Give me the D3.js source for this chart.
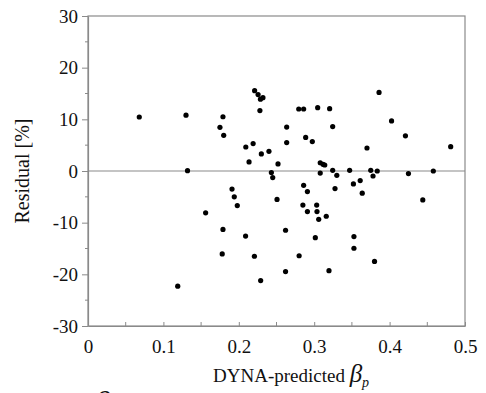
<!DOCTYPE html>
<html>
<head>
<meta charset="utf-8">
<script src="https://cdn.jsdelivr.net/npm/d3@7"></script>
<style>
  body { margin: 0; background: #fff; }
  svg { display: block; font-family: "Liberation Serif", "DejaVu Serif", serif; }
</style>
</head>
<body>
<div id="chart"></div>
<script>
// predicted beta_p vs residual (%)
var betaP = [0.068, 0.130, 0.132, 0.179, 0.175, 0.180, 0.191, 0.194, 0.198, 0.156,
    0.179, 0.178, 0.119, 0.221, 0.2256, 0.2287, 0.232, 0.228, 0.2795, 0.286,
    0.3046, 0.3205, 0.386, 0.2635, 0.3245, 0.4026, 0.421, 0.2887, 0.2975, 0.2635,
    0.370, 0.481, 0.2093, 0.219, 0.240, 0.2299, 0.2136, 0.252, 0.308, 0.3117,
    0.314, 0.308, 0.3245, 0.330, 0.347, 0.375, 0.378, 0.3836, 0.425, 0.458,
    0.2432, 0.245, 0.286, 0.291, 0.3276, 0.352, 0.361, 0.3637, 0.2507, 0.444,
    0.285, 0.291, 0.3033, 0.3037, 0.306, 0.316, 0.209, 0.262, 0.3015, 0.3527,
    0.3527, 0.2207, 0.280, 0.380, 0.262, 0.3196, 0.229];
var residual = [10.45, 10.8, 0.07, 10.5, 8.45, 6.9, -3.5, -5.0, -6.7, -8.1,
    -11.3, -16.05, -22.3, 15.55, 14.8, 13.9, 14.2, 11.7, 12.0, 12.0,
    12.26, 12.07, 15.2, 8.5, 8.6, 9.7, 6.8, 6.5, 5.7, 5.5,
    4.45, 4.7, 4.65, 5.3, 3.8, 3.3, 1.75, 1.36, 1.6, 1.3,
    1.16, -0.4, 0.13, -0.83, 0.13, 0.13, -0.97, 0.0, -0.5, 0.0,
    -0.3, -1.28, -2.77, -3.99, -3.4, -2.5, -1.86, -4.3, -5.5, -5.6,
    -6.6, -7.85, -6.6, -7.85, -9.35, -8.76, -12.6, -11.47, -12.9, -12.7,
    -14.95, -16.5, -16.4, -17.5, -19.46, -19.3, -21.2];
var xTicks = [0, 0.1, 0.2, 0.3, 0.4, 0.5];
var yTicks = [-30, -20, -10, 0, 10, 20, 30];

var width = 486, height = 393;
var mLeft = 88, mRight = 465, mTop = 16, mBottom = 326;
var axisColor = "#8a8a8a";

var svg = d3.select("#chart").append("svg")
    .attr("width", width)
    .attr("height", height);

var x = d3.scaleLinear().domain([0, 0.5]).range([mLeft, mRight]);
var y = d3.scaleLinear().domain([-30, 30]).range([mBottom, mTop]);

// frame
svg.append("rect")
    .attr("x", mLeft).attr("y", mTop)
    .attr("width", mRight - mLeft).attr("height", mBottom - mTop)
    .attr("fill", "none").attr("stroke", axisColor).attr("stroke-width", 1.2);

// zero line
svg.append("line")
    .attr("x1", mLeft).attr("x2", mRight)
    .attr("y1", y(0)).attr("y2", y(0))
    .attr("stroke", axisColor).attr("stroke-width", 1.2);

// y axis: ticks outward, minor every 5
var yAxis = d3.axisLeft(y).tickValues(yTicks).tickSize(6).tickSizeOuter(0).tickPadding(4)
    .tickFormat(function (d) { return String(d); });
var gy = svg.append("g").attr("transform", "translate(" + mLeft + ",0)").call(yAxis);
var yMinor = d3.range(-25, 30, 10);
svg.selectAll(".ymin").data(yMinor).enter().append("line")
    .attr("x1", mLeft - 3).attr("x2", mLeft)
    .attr("y1", function (d) { return y(d); }).attr("y2", function (d) { return y(d); })
    .attr("stroke", axisColor);

// x axis: ticks pointing inward, every 0.05
var xAxis = d3.axisBottom(x).tickValues(xTicks).tickSize(-4).tickSizeOuter(0).tickPadding(9)
    .tickFormat(function (d) { return d === 0 ? "0" : d3.format(".1f")(d); });
var gx = svg.append("g").attr("transform", "translate(0," + mBottom + ")").call(xAxis);
var xMinor = [0.05, 0.15, 0.25, 0.35, 0.45];
svg.selectAll(".xmin").data(xMinor).enter().append("line")
    .attr("x1", function (d) { return x(d); }).attr("x2", function (d) { return x(d); })
    .attr("y1", mBottom - 4).attr("y2", mBottom)
    .attr("stroke", axisColor);

[gx, gy].forEach(function (g) {
    g.attr("font-family", "Liberation Serif, serif").attr("font-size", 19);
    g.select(".domain").attr("stroke", axisColor).attr("stroke-width", 1.2);
    g.selectAll(".tick line").attr("stroke", axisColor);
    g.selectAll(".tick text").attr("fill", "#111");
});
gx.selectAll(".tick text").attr("dy", "0.95em");

// points
svg.selectAll("circle.pt")
    .data(betaP.map(function (b, i) { return [b, residual[i]]; }))
    .enter().append("circle")
    .attr("class", "pt")
    .attr("cx", function (d) { return x(d[0]); })
    .attr("cy", function (d) { return y(d[1]); })
    .attr("r", 2.6)
    .attr("fill", "#000");

// axis titles
svg.append("text")
    .attr("transform", "translate(29," + y(0) + ") rotate(-90)")
    .attr("text-anchor", "middle")
    .style("font-size", "20px")
    .attr("fill", "#111")
    .text("Residual [%]");

var xt = svg.append("text")
    .attr("x", 213).attr("y", 382)
    .style("font-size", "19px")
    .attr("fill", "#111");
xt.append("tspan").text("DYNA-predicted ");
xt.append("tspan").style("font-style", "italic").style("font-size", "25px").text("β");
xt.append("tspan").style("font-style", "italic").style("font-size", "14px").attr("dy", 5).text("p");

// cut-off glyphs from the next panel at the bottom edge
svg.append("text").attr("x", 4).attr("y", 406).style("font-size", "22px").attr("fill", "#111").text("a");
svg.append("text").attr("x", 95).attr("y", 412).style("font-size", "30px").style("font-style", "italic").attr("fill", "#111").text("β");
</script>
</body>
</html>
